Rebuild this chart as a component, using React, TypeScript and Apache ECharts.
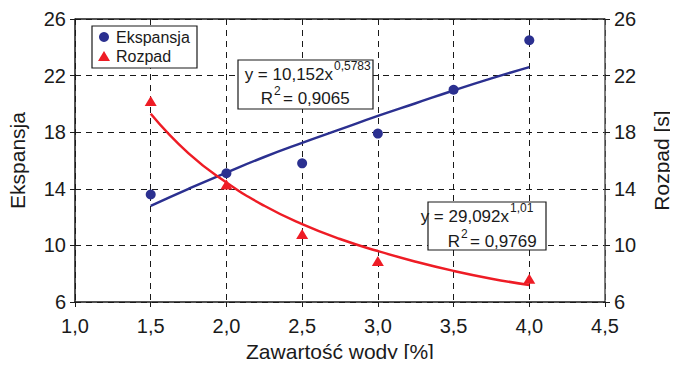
import React, { useEffect, useRef } from "react";
import * as echarts from "echarts";

const xTicks = [1.0, 1.5, 2.0, 2.5, 3.0, 3.5, 4.0, 4.5];
const ekspansjaX = [1.5, 2.0, 2.5, 3.0, 3.5, 4.0];
const ekspansjaY = [13.6, 15.1, 15.8, 17.9, 21.0, 24.5];
const rozpadX = [1.5, 2.0, 2.5, 3.0, 4.0];
const rozpadY = [20.2, 14.3, 10.8, 8.9, 7.65];
// trend lines
const trendX = [1.5, 1.75, 2.0, 2.25, 2.5, 2.75, 3.0, 3.25, 3.5, 3.75, 4.0];
const ekspansjaTrend = [12.8, 14.0, 15.15, 16.25, 17.25, 18.2, 19.15, 20.05, 20.95, 21.8, 22.6];
const rozpadTrend = [19.3, 16.5, 14.45, 12.8, 11.5, 10.45, 9.6, 8.85, 8.2, 7.65, 7.2];
const eqEkspansja = ["10,152", "0,5783", "0,9065"];
const eqRozpad = ["29,092", "1,01", "0,9769"];

const BLUE = "#2b3090";
const RED = "#ee1c25";
const INK = "#1a1a1a";
const FONT = "Liberation Sans, Arial, sans-serif";

function txt(x: number, y: number, text: string, size: number, align: string, lh?: number) {
  return {
    type: "text",
    x,
    y,
    z: 21,
    style: {
      text,
      fontFamily: FONT,
      fontSize: size,
      lineHeight: lh ?? Math.round(size * 1.2),
      fill: INK,
      textAlign: align,
      verticalAlign: "middle",
    },
  };
}

function eqBox(
  bx: number, by: number, bw: number, bh: number,
  xEnd: number, y1: number, rEnd: number, y2: number,
  v: string[]
) {
  return [
    {
      type: "rect",
      z: 20,
      shape: { x: bx, y: by, width: bw, height: bh },
      style: { fill: "#fff", stroke: INK, lineWidth: 1.2 },
    },
    txt(xEnd, y1, `y = ${v[0]}x`, 17, "right", 13),
    txt(xEnd + 1, y1 - 8, v[1], 12, "left", 8),
    txt(rEnd, y2, "R", 17, "right", 13),
    txt(rEnd + 1, y2 - 7, "2", 12, "left", 8),
    txt(rEnd + 10, y2, `= ${v[2]}`, 17, "left", 13),
  ];
}

export default function App() {
  const ref = useRef<HTMLDivElement>(null);
  useEffect(() => {
    const chart = echarts.init(ref.current!, null, { renderer: "svg" });
    const pair = (xs: number[], ys: number[]) => xs.map((x, i) => [x, ys[i]]);
    const yAxisCommon = {
      type: "value",
      min: 6,
      max: 26,
      interval: 4,
      nameLocation: "middle",
      nameTextStyle: { fontFamily: FONT, fontSize: 21, color: INK },
      axisLabel: { fontFamily: FONT, fontSize: 20, color: INK, margin: 9 },
      axisTick: { show: true, length: 5, lineStyle: { color: INK } },
    };
    chart.setOption({
      animation: false,
      grid: {
        left: 75,
        right: 73,
        top: 19,
        bottom: 65,
        show: false,
        containLabel: false,
        outerBoundsMode: "none",
      },
      xAxis: {
        type: "value",
        min: xTicks[0],
        max: xTicks[xTicks.length - 1],
        interval: 0.5,
        name: "Zawartość wody [%]",
        nameLocation: "middle",
        nameGap: 39,
        nameTextStyle: { fontFamily: FONT, fontSize: 21, color: INK },
        axisLine: { lineStyle: { color: INK, width: 1.5 } },
        axisTick: { show: true, length: 5, lineStyle: { color: INK } },
        axisLabel: {
          fontFamily: FONT,
          fontSize: 20,
          color: INK,
          margin: 14,
          formatter: (v: number) => v.toFixed(1).replace(".", ","),
        },
        splitLine: {
          show: true,
          lineStyle: { color: INK, type: [6, 5], width: 1 },
        },
      },
      yAxis: [
        {
          ...yAxisCommon,
          name: "Ekspansja",
          nameGap: 47,
          position: "left",
          axisLine: { show: true, lineStyle: { color: INK, width: 1.5 } },
          splitLine: {
            show: true,
            lineStyle: { color: INK, type: [6, 5], width: 1 },
          },
        },
        {
          ...yAxisCommon,
          name: "Rozpad [s]",
          nameGap: 46,
          nameRotate: 90,
          position: "right",
          axisLine: { show: true, lineStyle: { color: "#555", width: 1.5 } },
          splitLine: { show: false },
        },
      ],
      legend: { show: false },
      series: [
        {
          name: "Ekspansja",
          type: "scatter",
          data: pair(ekspansjaX, ekspansjaY),
          symbol: "circle",
          symbolSize: 10,
          itemStyle: { color: BLUE, opacity: 1 },
          z: 5,
        },
        {
          name: "Rozpad",
          type: "scatter",
          yAxisIndex: 1,
          data: pair(rozpadX, rozpadY),
          symbol: "triangle",
          symbolSize: [12, 10],
          itemStyle: { color: RED, opacity: 1 },
          z: 5,
        },
        {
          name: "trendE",
          type: "line",
          data: pair(trendX, ekspansjaTrend),
          smooth: true,
          showSymbol: false,
          lineStyle: { color: BLUE, width: 2.5 },
          z: 4,
        },
        {
          name: "trendR",
          type: "line",
          yAxisIndex: 1,
          data: pair(trendX, rozpadTrend),
          smooth: true,
          showSymbol: false,
          lineStyle: { color: RED, width: 2.5 },
          z: 4,
        },
      ],
      graphic: [
        {
          type: "line",
          z: 10,
          shape: { x1: 75, y1: 19, x2: 605, y2: 19 },
          style: { stroke: INK, lineWidth: 1.5 },
        },
        // legend
        {
          type: "rect",
          z: 20,
          shape: { x: 92, y: 26, width: 105, height: 42 },
          style: { fill: "#fff", stroke: INK, lineWidth: 1.2 },
        },
        {
          type: "circle",
          z: 21,
          shape: { cx: 104, cy: 37, r: 5 },
          style: { fill: BLUE },
        },
        txt(116, 37, "Ekspansja", 16, "left"),
        {
          type: "polygon",
          z: 21,
          shape: { points: [[104, 51], [110, 61], [98, 61]] },
          style: { fill: RED },
        },
        txt(116, 56, "Rozpad", 16, "left"),
        ...eqBox(238, 60, 135, 49, 333, 74, 273, 98, eqEkspansja),
        ...eqBox(428, 202, 118, 48, 509, 216, 460, 241, eqRozpad),
      ],
    });
    return () => chart.dispose();
  }, []);
  return <div ref={ref} style={{ width: 678, height: 367, margin: -8 }} />;
}
